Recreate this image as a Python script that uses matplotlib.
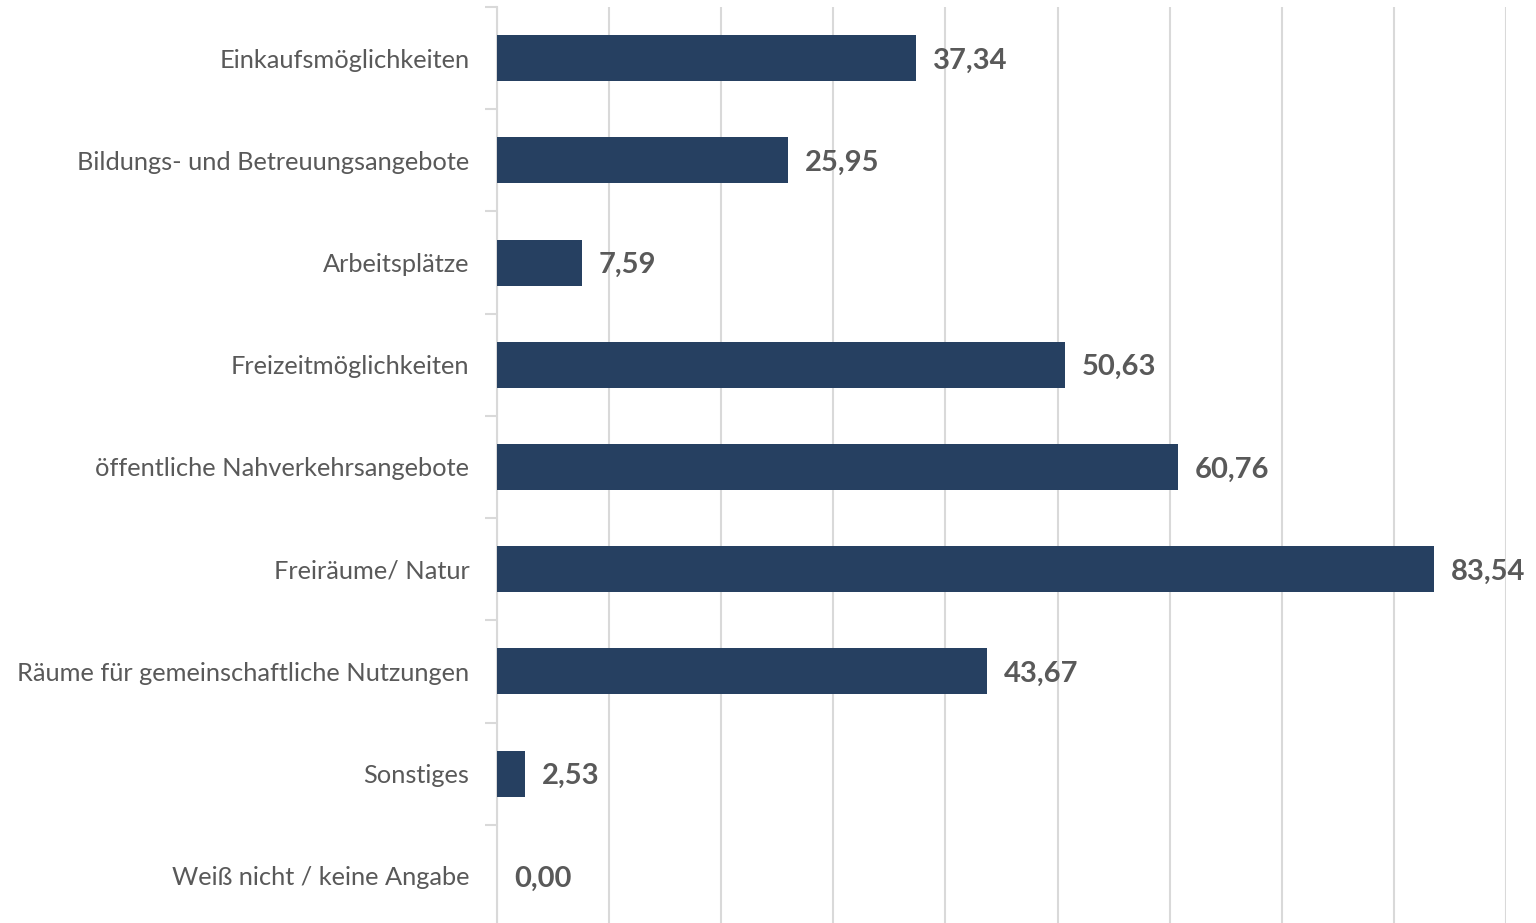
import matplotlib
matplotlib.use("Agg")
from matplotlib import pyplot as plt

categories = [
    "Einkaufsmöglichkeiten",
    "Bildungs- und Betreuungsangebote",
    "Arbeitsplätze",
    "Freizeitmöglichkeiten",
    "öffentliche Nahverkehrsangebote",
    "Freiräume/ Natur",
    "Räume für gemeinschaftliche Nutzungen",
    "Sonstiges",
    "Weiß nicht / keine Angabe",
]
values = [37.34, 25.95, 7.59, 50.63, 60.76, 83.54, 43.67, 2.53, 0.00]

bar_color = "#264061"
text_color = "#595959"
label_color = "#595959"
grid_color = "#d9d9d9"

fig = plt.figure(figsize=(15.36, 9.23), dpi=100)
ax = fig.add_axes([0.3236, -0.0043, 0.6569, 0.9967])

y = list(range(len(categories)))
ax.barh(y, values, height=0.45, color=bar_color, zorder=3)

for yi, v in zip(y, values):
    ax.text(v + 1.5, yi, f"{v:.2f}".replace(".", ","), va="center_baseline", ha="left",
            fontsize=21, fontweight="bold", color=text_color, family="Lato")

ax.set_xlim(0, 90)
ax.set_ylim(len(categories) - 0.5, -0.5)
ax.set_xticks(range(0, 91, 10))
ax.xaxis.grid(True, color=grid_color, linewidth=1.5, zorder=0)
ax.tick_params(axis="x", length=0, labelbottom=False)

ax.set_yticks(y)
ax.set_yticklabels(categories, fontsize=18.3, color=label_color, family="Lato")
ax.set_yticks([i - 0.5 for i in range(len(categories) + 1)], minor=True)
ax.tick_params(axis="y", which="major", length=0, pad=20)
ax.tick_params(axis="y", which="minor", length=9, width=1.5, color=grid_color)

for side in ["top", "right", "bottom"]:
    ax.spines[side].set_visible(False)
ax.spines["left"].set_color(grid_color)
ax.spines["left"].set_linewidth(1.5)

fig.savefig("out.png", dpi=100)
